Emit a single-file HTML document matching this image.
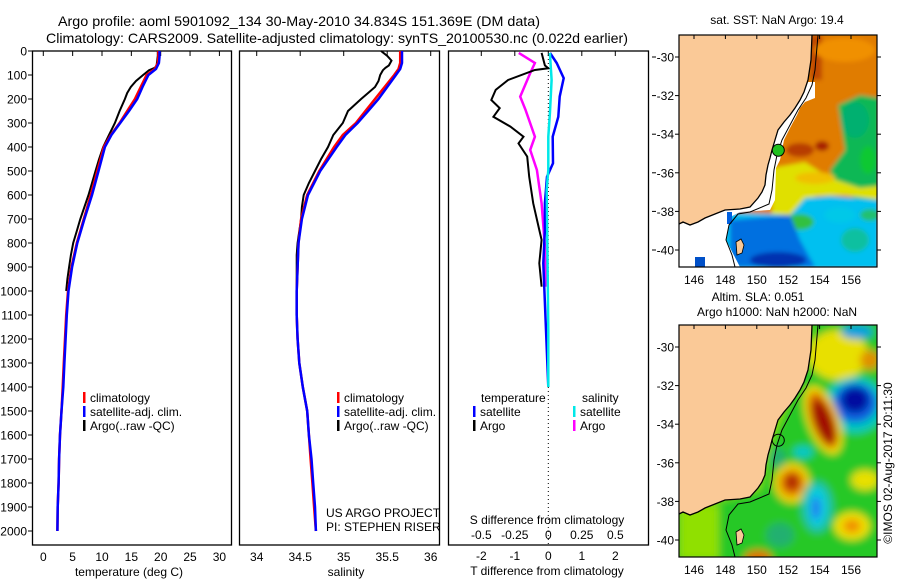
<!DOCTYPE html>
<html><head><meta charset="utf-8">
<style>
html,body{margin:0;padding:0;background:#fff;}
svg{display:block;font-family:"Liberation Sans",sans-serif;}
text{fill:#000;}
</style></head>
<body>
<svg id="fig" width="900" height="580" viewBox="0 0 900 580" xmlns="http://www.w3.org/2000/svg">
<defs>
  <clipPath id="clipM1"><rect x="679" y="35" width="198" height="232"/></clipPath>
  <clipPath id="clipM2"><rect x="679" y="325" width="198" height="232"/></clipPath>
  <filter id="blurS" x="-20%" y="-20%" width="140%" height="140%"><feGaussianBlur stdDeviation="2"/></filter>
  <filter id="blurL" x="-20%" y="-20%" width="140%" height="140%"><feGaussianBlur stdDeviation="4"/></filter>
</defs>
<text x="299" y="26" font-size="14" text-anchor="middle" textLength="482" lengthAdjust="spacingAndGlyphs">Argo profile: aoml 5901092_134 30-May-2010 34.834S 151.369E (DM data)</text>
<text x="337" y="43" font-size="14" text-anchor="middle" textLength="582" lengthAdjust="spacingAndGlyphs">Climatology: CARS2009. Satellite-adjusted climatology: synTS_20100530.nc (0.022d earlier)</text>
<g id="g1"></g>
<g id="g2"></g>
<g id="g3"></g>
<g id="m1"></g>
<g id="m2"></g>
<text font-size="12" text-anchor="middle" transform="translate(892,463) rotate(-90)">©IMOS 02-Aug-2017 20:11:30</text>
</svg>
<script>
// ---- data ----
const depthTicks = [0,100,200,300,400,500,600,700,800,900,1000,1100,1200,1300,1400,1500,1600,1700,1800,1900,2000];
const tempTicks = [0,5,10,15,20,25,30];
const salTicks = [34,34.5,35,35.5,36];
const salTickLabels = ["34","34.5","35","35.5","36"];
const tdiffTicks = [-2,-1,0,1,2];
const sdiffTicks = [-0.5,-0.25,0,0.25,0.5];
const sdiffTickLabels = ["-0.5","-0.25","0","0.25","0.5"];

const climDepth = [0,25,50,75,100,150,200,250,300,350,400,500,600,700,800,900,1000,1100,1200,1300,1400,1500,1600,1700,1800,1900,2000];
const climTemp = [19.6,19.6,19.5,19.0,17.6,16.6,15.6,14.3,13.0,11.5,10.3,9.2,8.1,6.9,5.7,4.8,4.2,3.9,3.7,3.5,3.3,3.1,2.85,2.7,2.6,2.45,2.4];
const satTemp = [19.8,19.8,19.7,19.2,17.9,16.9,16.0,14.6,13.1,11.6,10.5,9.4,8.3,7.0,5.8,4.9,4.3,4.0,3.8,3.6,3.4,3.1,2.85,2.7,2.6,2.45,2.4];
const climSal = [35.65,35.65,35.65,35.63,35.58,35.47,35.36,35.25,35.14,34.99,34.89,34.72,34.58,34.51,34.48,34.47,34.46,34.46,34.47,34.49,34.53,34.58,34.6,34.62,34.64,34.66,34.68];
const satSal = [35.67,35.67,35.67,35.65,35.6,35.5,35.4,35.28,35.16,35.02,34.92,34.73,34.59,34.52,34.48,34.47,34.46,34.46,34.47,34.49,34.53,34.58,34.6,34.63,34.65,34.67,34.68];

const argoDepth = [0,20,40,60,70,80,100,125,150,175,200,250,300,350,400,450,500,550,600,650,700,750,800,850,900,950,1000];
const argoTemp = [19.5,19.5,19.4,19.3,19.0,18.0,17.0,15.8,14.9,14.3,13.9,13.0,12.2,11.2,10.2,9.5,8.9,8.3,7.7,7.0,6.3,5.7,5.1,4.7,4.4,4.1,3.9];
const argoSal = [35.43,35.5,35.55,35.52,35.48,35.45,35.42,35.4,35.36,35.28,35.2,35.05,34.99,34.88,34.82,34.74,34.67,34.6,34.54,34.52,34.51,34.49,34.47,34.46,34.46,34.46,34.46];

const argoDiffDepth = [8,60,72,79,121,162,204,238,274,315,357,385,440,524,634,746,787,884,982];
const argoTDiff = [-0.2,-0.1,0,-0.4,-1.2,-1.57,-1.7,-1.45,-1.64,-1.13,-0.74,-0.89,-0.63,-0.57,-0.45,-0.27,-0.2,-0.27,-0.2];
const argoSDiffDepth = [8,50,92,190,245,357,412,496,634,815,982];
const argoSDiff = [-0.22,-0.1,-0.135,-0.21,-0.17,-0.1,-0.135,-0.085,-0.05,-0.025,-0.017];
const satDiffDepth = [8,50,113,190,274,357,468,524,634,746,884,1163,1400];
const satTDiff = [0.05,0.25,0.46,0.34,0.3,0.13,0.14,-0.04,-0.1,-0.1,-0.15,-0.07,0];
const satSDiffDepth = [8,121,260,357,496,580,746,1163,1400];
const satSDiff = [0.012,0.025,0.012,0,0,-0.012,-0.008,0,0];

// ---- helpers ----
const NS = "http://www.w3.org/2000/svg";
function mk(parent, tag, attrs, txt){
  const e = document.createElementNS(NS, tag);
  for (const k in attrs) e.setAttribute(k, attrs[k]);
  if (txt !== undefined) e.textContent = txt;
  parent.appendChild(e);
  return e;
}
const Y0 = 51, YB = 545;
const yD = d => Y0 + d * 0.24;
const xT = t => 43.3 + t * 5.87;
const xS = s => 256.7 + (s - 34) * 87;
const xTd = v => 548.3 + v * 33.5;
const xSd = v => 548.3 + v * 134;

function line(parent, xs, ys, color, w, name){
  const pts = xs.map((x,i)=>x.toFixed(1)+","+ys[i].toFixed(1)).join(" ");
  const p = mk(parent, "polyline", {points: pts, fill:"none", stroke:color, "stroke-width":w, "stroke-linejoin":"miter"});
  
  
  return p;
}
function frame(parent, x0, x1, name){
  const r = mk(parent, "rect", {x:x0, y:Y0, width:x1-x0, height:YB-Y0, fill:"none", stroke:"#000", "stroke-width":1.3});
  
  
}
function legendRow(parent, x, y, color, label, name){
  const r = mk(parent, "rect", {x:x, y:y-6, width:2.5, height:11, fill:color});
  
  
  const t = mk(parent, "text", {x:x+7, y:y+4, "font-size":12}, label);
  
  
}

// ---- panel 1 ----
const g1 = document.getElementById("g1");
frame(g1, 32.5, 231.5, "temperature-frame");
depthTicks.forEach(d=>{
  mk(g1,"line",{x1:28,x2:32.5,y1:yD(d),y2:yD(d),stroke:"#000"});
  const t = mk(g1,"text",{x:27,y:yD(d)+4.5,"font-size":12,"text-anchor":"end"}, String(d));
  
  
});
tempTicks.forEach(v=>{
  mk(g1,"line",{x1:xT(v),x2:xT(v),y1:Y0,y2:Y0+5,stroke:"#000"});
  const t = mk(g1,"text",{x:xT(v),y:561,"font-size":12,"text-anchor":"middle"}, String(v));
  
  
});
{ const t = mk(g1,"text",{x:129,y:576,"font-size":12,"text-anchor":"middle"},"temperature (deg C)");
  
   }
line(g1, argoTemp.map(xT), argoDepth.map(yD), "#000", 2, "argo-temperature-line");
line(g1, climTemp.map(xT), climDepth.map(yD), "#f00", 2.5, "climatology-temperature-line");
line(g1, satTemp.map(xT), climDepth.map(yD), "#0000ff", 2.5, "satellite-temperature-line");
legendRow(g1, 83, 398, "#f00", "climatology", "legend-climatology");
legendRow(g1, 83, 412, "#0000ff", "satellite-adj. clim.", "legend-satellite");
legendRow(g1, 83, 426, "#000", "Argo(..raw -QC)", "legend-argo");

// ---- panel 2 ----
const g2 = document.getElementById("g2");
frame(g2, 239.5, 439.5, "salinity-frame");
salTicks.forEach((v,i)=>{
  mk(g2,"line",{x1:xS(v),x2:xS(v),y1:Y0,y2:Y0+5,stroke:"#000"});
  const t = mk(g2,"text",{x:xS(v),y:561,"font-size":12,"text-anchor":"middle"}, salTickLabels[i]);
  
  
});
{ const t = mk(g2,"text",{x:346,y:576,"font-size":12,"text-anchor":"middle"},"salinity");
  
   }
line(g2, argoSal.map(xS), argoDepth.map(yD), "#000", 2, "argo-salinity-line");
line(g2, climSal.map(xS), climDepth.map(yD), "#f00", 2.5, "climatology-salinity-line");
line(g2, satSal.map(xS), climDepth.map(yD), "#0000ff", 2.5, "satellite-salinity-line");
legendRow(g2, 337, 398, "#f00", "climatology", "legend-sal-climatology");
legendRow(g2, 337, 412, "#0000ff", "satellite-adj. clim.", "legend-sal-satellite");
legendRow(g2, 337, 426, "#000", "Argo(..raw -QC)", "legend-sal-argo");
{ const t = mk(g2,"text",{x:326,y:517,"font-size":12},"US ARGO PROJECT");
   
  const u = mk(g2,"text",{x:326,y:531,"font-size":12},"PI: STEPHEN RISER");
    }

// ---- panel 3 ----
const g3 = document.getElementById("g3");
frame(g3, 448.5, 648.5, "difference-frame");
mk(g3,"line",{x1:548.3,x2:548.3,y1:Y0,y2:YB,stroke:"#000","stroke-dasharray":"1,3"});
tdiffTicks.forEach(v=>{
  mk(g3,"line",{x1:xTd(v),x2:xTd(v),y1:Y0,y2:Y0+5,stroke:"#000"});
  const t = mk(g3,"text",{x:xTd(v),y:560,"font-size":12,"text-anchor":"middle"}, String(v));
  
  
});
sdiffTicks.forEach((v,i)=>{
  const t = mk(g3,"text",{x:xSd(v),y:539,"font-size":12,"text-anchor":"middle"}, sdiffTickLabels[i]);
  
  
});
[57,95.6,134.2,172.8,211.4,250].forEach(y=>mk(g3,"line",{x1:652,x2:656,y1:y,y2:y,stroke:"#000"}));
{ const t = mk(g3,"text",{x:547,y:524,"font-size":12,"text-anchor":"middle"},"S difference from climatology");
   
  const u = mk(g3,"text",{x:547,y:575,"font-size":12,"text-anchor":"middle"},"T difference from climatology");
    }
line(g3, argoSDiff.map(xSd), argoSDiffDepth.map(yD), "#ff00ff", 2.5, "argo-salinity-difference-line");
line(g3, argoTDiff.map(xTd), argoDiffDepth.map(yD), "#000", 2, "argo-temperature-difference-line");
line(g3, satTDiff.map(xTd), satDiffDepth.map(yD), "#0000ff", 2.5, "satellite-temperature-difference-line");
line(g3, satSDiff.map(xSd), satSDiffDepth.map(yD), "#00e8e8", 2.5, "satellite-salinity-difference-line");
{ const t = mk(g3,"text",{x:481,y:402,"font-size":12},"temperature");
   
  const u = mk(g3,"text",{x:582,y:402,"font-size":12},"salinity");
    }
legendRow(g3, 473, 412, "#0000ff", "satellite", "legend-t-satellite");
legendRow(g3, 473, 426, "#000", "Argo", "legend-t-argo");
legendRow(g3, 573, 412, "#00e8e8", "satellite", "legend-s-satellite");
legendRow(g3, 573, 426, "#ff00ff", "Argo", "legend-s-argo");

// ---- maps ----
const lonTicks = [146,148,150,152,154,156];
const latTicks = [-30,-32,-34,-36,-38,-40];
const lonX = lon => 694 + (lon-146)*15.7;
const latY = (lat,off) => off + 57 + (-30-lat)*19.3;
const coast = [[812,35],[811,60],[808,80],[804,92],[800,100],[795,108],[790,115],[784,122],[778,130],[775,140],[772,150],[770,158],[768,165],[766,175],[765,185],[762,192],[758,198],[750,207],[740,209],[725,210],[715,214],[705,218],[698,222],[690,225],[683,222],[679,224]];
const contour = [[818,35],[815,70],[812,85],[806,98],[798,110],[790,125],[782,140],[777,155],[774,170],[772,190],[769,204],[750,212],[738,214],[729,225],[726,240],[732,255],[735,267]];
const ptsStr = (arr,off) => arr.map(p=>p[0]+","+(p[1]+off)).join(" ");

function mapFrame(g, off, clipId){
  const landPts = "679,"+(35+off)+" "+ptsStr(coast,off);
  mk(g,"polygon",{points:landPts,fill:"#fac997","clip-path":"url(#"+clipId+")"});
  mk(g,"polyline",{points:ptsStr(coast,off),fill:"none",stroke:"#000","stroke-width":1.3});
  mk(g,"polyline",{points:ptsStr(contour,off),fill:"none",stroke:"#000","stroke-width":1});
  mk(g,"path",{d:`M${736} ${242+off} l5 -3 l3 6 l-2 8 l-5 2 z`,fill:"#fac997",stroke:"#000","stroke-width":0.8});
  const r = mk(g,"rect",{x:679,y:35+off,width:198,height:232,fill:"none",stroke:"#000","stroke-width":1.2});
   
  lonTicks.forEach(v=>{
    mk(g,"line",{x1:lonX(v),x2:lonX(v),y1:35+off,y2:39+off,stroke:"#000"});
    const t = mk(g,"text",{x:lonX(v),y:284+off,"font-size":12,"text-anchor":"middle"},String(v));
     
  });
  latTicks.forEach(v=>{
    mk(g,"line",{x1:675,x2:679,y1:latY(v,off),y2:latY(v,off),stroke:"#000"});
    mk(g,"line",{x1:877,x2:881,y1:latY(v,off),y2:latY(v,off),stroke:"#000"});
    const t = mk(g,"text",{x:674,y:latY(v,off)+4.5,"font-size":12,"text-anchor":"end"},String(v));
     
  });
}

// SST map
const m1 = document.getElementById("m1");
{
  const oc = mk(m1,"g",{"clip-path":"url(#clipM1)"});
  const b = mk(oc,"g",{filter:"url(#blurS)"});
  mk(b,"rect",{x:670,y:25,width:220,height:250,fill:"#e07c00"});
  mk(b,"rect",{x:810,y:35,width:12,height:45,fill:"#c04800"});
  mk(b,"ellipse",{cx:800,cy:150,rx:14,ry:7,fill:"#b83c00"});
  mk(b,"ellipse",{cx:822,cy:146,rx:7,ry:5,fill:"#a82000"});
  mk(b,"ellipse",{cx:845,cy:50,rx:30,ry:12,fill:"#f09000"});
  mk(b,"polygon",{points:"838,105 860,95 880,98 880,215 860,200 838,190 830,170 845,150",fill:"#10b855"});
  mk(b,"ellipse",{cx:855,cy:120,rx:14,ry:18,fill:"#00b070"});
  mk(b,"ellipse",{cx:868,cy:160,rx:8,ry:14,fill:"#10c830"});
  mk(b,"polygon",{points:"772,168 805,162 830,178 860,188 880,186 880,200 845,195 815,196 808,210 800,222 785,225 772,222",fill:"#e0e000"});
  mk(b,"ellipse",{cx:815,cy:178,rx:20,ry:6,fill:"#f0c000"});
  mk(b,"polygon",{points:"805,198 830,196 880,200 880,270 679,270 679,240 730,212 790,215",fill:"#00c0f0"});
  mk(b,"ellipse",{cx:800,cy:222,rx:14,ry:8,fill:"#30c040"});
  mk(b,"polygon",{points:"730,220 790,215 800,240 815,267 730,267",fill:"#0070e0"});
  mk(b,"ellipse",{cx:778,cy:260,rx:28,ry:8,fill:"#0030b0"});
  mk(b,"ellipse",{cx:855,cy:240,rx:14,ry:12,fill:"#10c0a0"});
  mk(b,"ellipse",{cx:870,cy:215,rx:10,ry:6,fill:"#20c070"});
  mk(b,"ellipse",{cx:840,cy:215,rx:16,ry:8,fill:"#00c8e8"});
  mk(oc,"polygon",{points:"808,82 815,82 815,98 805,102 800,108 797,115 790,128 784,140 780,160 776,168 775,200 770,210 740,212 732,216 728,230 726,240 740,267 679,267 679,224 705,218 725,210 750,207 762,192 765,175 770,158 778,130 790,115 800,100",fill:"#fff"});
  mk(oc,"rect",{x:788,y:88,width:8,height:18,fill:"#f0c000"});
  mk(oc,"rect",{x:695,y:257,width:10,height:10,fill:"#0050c8"});
  mk(oc,"rect",{x:727,y:212,width:5,height:12,fill:"#0060e0"});
}
mapFrame(m1, 0, "clipM1");
{ const c = mk(m1,"circle",{cx:lonX(151.369),cy:latY(-34.834,0),r:6,fill:"#20c020",stroke:"#000","stroke-width":1});
   
  const t = mk(m1,"text",{x:777,y:24,"font-size":12,"text-anchor":"middle"},"sat. SST: NaN Argo: 19.4");
    }

// SLA map
const m2 = document.getElementById("m2");
{
  const off = 290;
  const oc = mk(m2,"g",{"clip-path":"url(#clipM2)"});
  const b = mk(oc,"g",{filter:"url(#blurL)", transform:"translate(0,"+off+")"});
  mk(b,"rect",{x:660,y:20,width:240,height:260,fill:"#28c828"});
  mk(b,"polygon",{points:"679,222 760,200 772,150 790,110 812,35 800,35 780,100 760,160 745,200 679,215",fill:"#90e000"});
  mk(b,"rect",{x:679,y:215,width:40,height:55,fill:"#90e000"});
  mk(b,"ellipse",{cx:838,cy:65,rx:30,ry:25,fill:"#e8e000"});
  mk(b,"ellipse",{cx:870,cy:70,rx:10,ry:10,fill:"#e09000"});
  mk(b,"ellipse",{cx:857,cy:42,rx:16,ry:7,fill:"#00a0e0"});
  mk(b,"ellipse",{cx:855,cy:115,rx:30,ry:28,fill:"#00c8c0"});
  mk(b,"ellipse",{cx:855,cy:113,rx:22,ry:20,fill:"#1060e0"});
  mk(b,"ellipse",{cx:855,cy:110,rx:14,ry:13,fill:"#0010a0"});
  mk(b,"ellipse",{cx:823,cy:130,rx:16,ry:36,fill:"#f0e000",transform:"rotate(-20 823 130)"});
  mk(b,"ellipse",{cx:823,cy:130,rx:12,ry:30,fill:"#e07000",transform:"rotate(-20 823 130)"});
  mk(b,"ellipse",{cx:823,cy:132,rx:9,ry:24,fill:"#a01000",transform:"rotate(-20 823 130)"});
  mk(b,"ellipse",{cx:803,cy:162,rx:10,ry:6,fill:"#00c8c8"});
  mk(b,"ellipse",{cx:865,cy:190,rx:14,ry:10,fill:"#e8e000"});
  mk(b,"ellipse",{cx:792,cy:193,rx:18,ry:20,fill:"#f0d000"});
  mk(b,"ellipse",{cx:792,cy:193,rx:12,ry:13,fill:"#e07000"});
  mk(b,"ellipse",{cx:792,cy:192,rx:7,ry:8,fill:"#b02800"});
  mk(b,"ellipse",{cx:817,cy:217,rx:16,ry:26,fill:"#20c0a0"});
  mk(b,"ellipse",{cx:817,cy:217,rx:10,ry:20,fill:"#00d0e0"});
  mk(b,"ellipse",{cx:816,cy:218,rx:5,ry:12,fill:"#2080f0"});
  mk(b,"ellipse",{cx:852,cy:236,rx:18,ry:14,fill:"#f0e000"});
  mk(b,"ellipse",{cx:852,cy:236,rx:9,ry:7,fill:"#f09000"});
  mk(b,"ellipse",{cx:758,cy:268,rx:14,ry:8,fill:"#e07000"});
  mk(b,"ellipse",{cx:780,cy:245,rx:14,ry:12,fill:"#20b070"});
  mk(b,"ellipse",{cx:778,cy:168,rx:8,ry:10,fill:"#20b070"});
}
mapFrame(m2, 290, "clipM2");
{ const c = mk(m2,"circle",{cx:lonX(151.369),cy:latY(-34.834,290),r:6,fill:"none",stroke:"#000","stroke-width":1});
   
  const t = mk(m2,"text",{x:758,y:301,"font-size":12,"text-anchor":"middle"},"Altim. SLA: 0.051");
   
  const u = mk(m2,"text",{x:777,y:316,"font-size":12,"text-anchor":"middle"},"Argo h1000: NaN h2000: NaN");
    }
</script>
</body></html>
